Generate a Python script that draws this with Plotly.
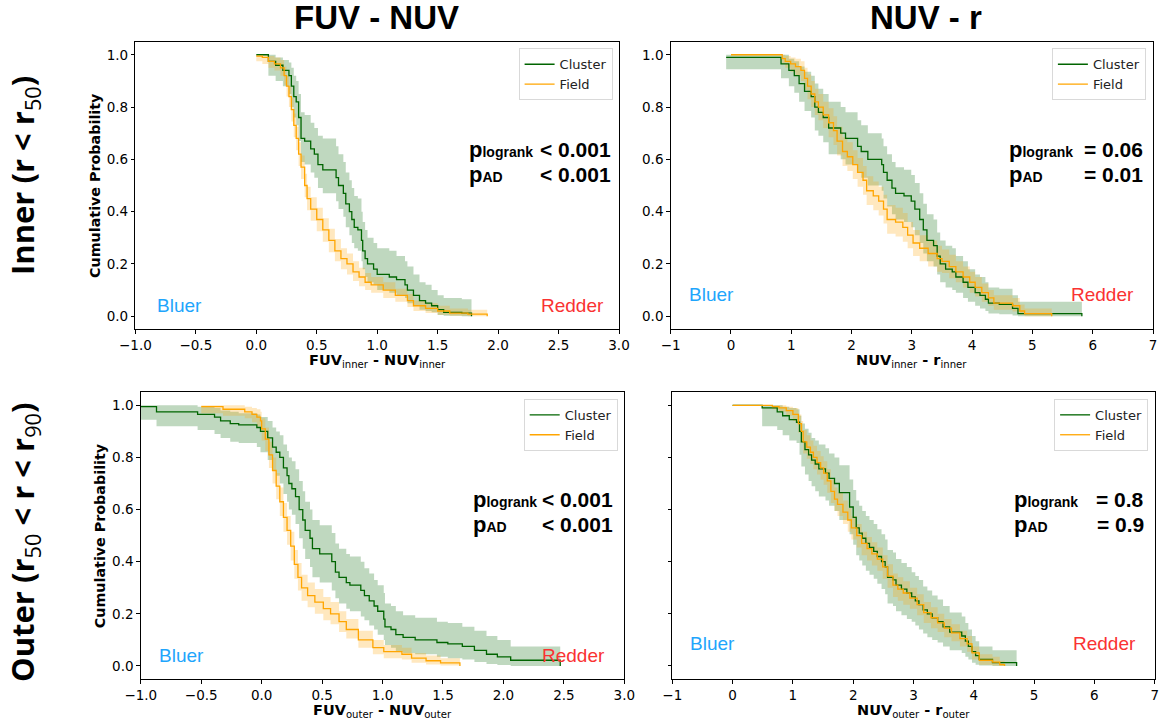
import plotly.graph_objects as go

W, H = 1162, 725

# ---------------- data ----------------
# Panel A : inner, FUV - NUV
a_cl_x = [0.00, 0.10, 0.16, 0.22, 0.27, 0.29, 0.31, 0.33, 0.35, 0.37, 0.40, 0.45, 0.48, 0.51, 0.55, 0.66, 0.68, 0.72, 0.74, 0.77,
          0.79, 0.81, 0.84, 0.87, 0.88, 0.90, 0.92, 0.97, 1.00, 1.10, 1.16, 1.23, 1.25, 1.30, 1.35, 1.40, 1.45, 1.50, 1.55, 1.70, 1.78]
a_cl_y = [1.00, 0.975, 0.96, 0.94, 0.92, 0.88, 0.84, 0.82, 0.76, 0.68, 0.67, 0.64, 0.62, 0.58, 0.56, 0.53, 0.50, 0.47, 0.43, 0.40,
          0.37, 0.34, 0.33, 0.29, 0.25, 0.22, 0.20, 0.18, 0.16, 0.15, 0.14, 0.12, 0.10, 0.08, 0.06, 0.05, 0.04, 0.025, 0.015, 0.012, 0.0]
a_cl_hi = [1.00, 1.00, 0.99, 0.98, 0.97, 0.95, 0.92, 0.90, 0.85, 0.78, 0.77, 0.74, 0.72, 0.69, 0.68, 0.65, 0.62, 0.59, 0.55, 0.52,
           0.49, 0.46, 0.45, 0.40, 0.36, 0.33, 0.30, 0.28, 0.26, 0.25, 0.23, 0.21, 0.19, 0.16, 0.13, 0.12, 0.10, 0.08, 0.07, 0.065, 0.06]
a_cl_lo = [1.00, 0.92, 0.90, 0.88, 0.85, 0.80, 0.76, 0.73, 0.67, 0.59, 0.58, 0.55, 0.53, 0.49, 0.47, 0.44, 0.41, 0.38, 0.34, 0.31,
           0.28, 0.26, 0.25, 0.21, 0.18, 0.15, 0.13, 0.12, 0.10, 0.09, 0.08, 0.07, 0.05, 0.04, 0.025, 0.02, 0.015, 0.005, 0.002, 0.0, 0.0]
a_fd_x = [0.00, 0.05, 0.10, 0.15, 0.20, 0.23, 0.25, 0.27, 0.29, 0.31, 0.33, 0.35, 0.37, 0.40, 0.42, 0.45, 0.50, 0.55, 0.60, 0.65,
          0.70, 0.75, 0.80, 0.85, 0.90, 0.95, 1.05, 1.15, 1.25, 1.30, 1.40, 1.50, 1.60, 1.75, 1.91]
a_fd_y = [0.995, 0.99, 0.975, 0.965, 0.95, 0.92, 0.88, 0.84, 0.79, 0.73, 0.68, 0.62, 0.57, 0.50, 0.45, 0.41, 0.37, 0.33, 0.29, 0.25,
          0.22, 0.20, 0.17, 0.15, 0.13, 0.12, 0.10, 0.08, 0.06, 0.04, 0.03, 0.02, 0.012, 0.008, 0.0]
a_fd_hi = [1.0, 1.0, 0.995, 0.99, 0.98, 0.955, 0.92, 0.88, 0.835, 0.775, 0.725, 0.665, 0.615, 0.545, 0.495, 0.455, 0.415, 0.375, 0.335, 0.295,
           0.26, 0.24, 0.21, 0.185, 0.165, 0.15, 0.13, 0.105, 0.085, 0.06, 0.05, 0.04, 0.03, 0.025, 0.02]
a_fd_lo = [0.975, 0.965, 0.95, 0.94, 0.92, 0.885, 0.84, 0.80, 0.745, 0.685, 0.635, 0.575, 0.525, 0.455, 0.405, 0.365, 0.325, 0.285, 0.245, 0.21,
           0.18, 0.16, 0.135, 0.115, 0.10, 0.09, 0.07, 0.055, 0.035, 0.02, 0.012, 0.006, 0.002, 0.0, 0.0]

# Panel B : inner, NUV - r
b_cl_x = [-0.08, 0.83, 0.96, 1.05, 1.13, 1.22, 1.33, 1.39, 1.45, 1.53, 1.62, 1.82, 1.90, 2.10, 2.16, 2.27, 2.50, 2.53, 2.59, 2.67,
          2.73, 2.87, 2.99, 3.05, 3.13, 3.19, 3.25, 3.36, 3.42, 3.47, 3.56, 3.67, 3.73, 3.85, 3.93, 4.05, 4.13, 4.22, 4.27, 4.45,
          4.67, 4.76, 5.82]
b_cl_y = [0.99, 0.965, 0.94, 0.92, 0.89, 0.86, 0.84, 0.80, 0.78, 0.76, 0.72, 0.70, 0.68, 0.65, 0.63, 0.60, 0.58, 0.55, 0.52, 0.49,
          0.47, 0.46, 0.44, 0.41, 0.37, 0.33, 0.29, 0.27, 0.23, 0.20, 0.18, 0.17, 0.15, 0.13, 0.11, 0.09, 0.08, 0.065, 0.05, 0.045,
          0.03, 0.01, 0.0]
b_cl_hi = [1.0, 1.0, 0.985, 0.975, 0.955, 0.935, 0.92, 0.89, 0.87, 0.85, 0.82, 0.80, 0.78, 0.75, 0.73, 0.70, 0.68, 0.65, 0.62, 0.59,
           0.57, 0.56, 0.54, 0.51, 0.47, 0.43, 0.39, 0.37, 0.32, 0.29, 0.27, 0.26, 0.23, 0.21, 0.18, 0.16, 0.15, 0.13, 0.11, 0.105,
           0.08, 0.055, 0.05]
b_cl_lo = [0.945, 0.91, 0.88, 0.855, 0.82, 0.785, 0.76, 0.71, 0.69, 0.665, 0.62, 0.60, 0.58, 0.55, 0.53, 0.50, 0.48, 0.45, 0.42, 0.39,
           0.37, 0.36, 0.34, 0.31, 0.28, 0.24, 0.21, 0.19, 0.16, 0.13, 0.11, 0.10, 0.09, 0.07, 0.055, 0.04, 0.03, 0.02, 0.01, 0.008,
           0.003, 0.0, 0.0]
b_fd_x = [0.00, 0.85, 0.90, 0.99, 1.07, 1.16, 1.22, 1.27, 1.33, 1.39, 1.45, 1.53, 1.62, 1.70, 1.76, 1.85, 1.93, 2.02, 2.10, 2.19,
          2.25, 2.36, 2.45, 2.53, 2.59, 2.73, 2.85, 2.93, 3.02, 3.13, 3.27, 3.42, 3.50, 3.62, 3.73, 3.85, 3.96, 4.05, 4.16, 4.27,
          4.36, 4.67, 4.79, 4.87, 5.32]
b_fd_y = [1.0, 0.985, 0.975, 0.965, 0.955, 0.94, 0.91, 0.88, 0.85, 0.82, 0.80, 0.77, 0.74, 0.71, 0.67, 0.63, 0.61, 0.58, 0.55, 0.52,
          0.48, 0.46, 0.44, 0.41, 0.37, 0.36, 0.34, 0.31, 0.28, 0.26, 0.24, 0.22, 0.21, 0.19, 0.17, 0.15, 0.13, 0.11, 0.09, 0.07,
          0.05, 0.04, 0.02, 0.01, 0.0]
b_fd_hi = [1.0, 1.0, 0.995, 0.99, 0.985, 0.975, 0.95, 0.925, 0.90, 0.87, 0.85, 0.82, 0.795, 0.765, 0.725, 0.685, 0.665, 0.635, 0.605, 0.575,
           0.535, 0.515, 0.495, 0.465, 0.425, 0.415, 0.395, 0.36, 0.33, 0.31, 0.29, 0.27, 0.255, 0.235, 0.21, 0.19, 0.17, 0.15, 0.125, 0.10,
           0.08, 0.07, 0.045, 0.03, 0.02]
b_fd_lo = [1.0, 0.965, 0.95, 0.935, 0.92, 0.9, 0.865, 0.83, 0.80, 0.77, 0.75, 0.72, 0.685, 0.655, 0.615, 0.575, 0.555, 0.525, 0.495, 0.465,
           0.425, 0.405, 0.385, 0.355, 0.315, 0.305, 0.285, 0.26, 0.23, 0.21, 0.19, 0.17, 0.165, 0.145, 0.13, 0.11, 0.09, 0.075, 0.055, 0.04,
           0.025, 0.018, 0.005, 0.0, 0.0]

# Panel C : outer, FUV - NUV
c_cl_x = [-1.00, -0.87, -0.53, -0.39, -0.34, -0.26, -0.19, -0.04, -0.01, 0.05, 0.09, 0.12, 0.15, 0.18, 0.21, 0.225, 0.25, 0.28, 0.31, 0.34,
          0.36, 0.40, 0.42, 0.48, 0.58, 0.61, 0.64, 0.70, 0.73, 0.82, 0.85, 0.89, 0.93, 0.96, 1.01, 1.02, 1.07, 1.11, 1.17, 1.27,
          1.45, 1.54, 1.66, 1.76, 1.86, 1.95, 2.06, 2.47]
c_cl_y = [0.995, 0.975, 0.965, 0.955, 0.94, 0.93, 0.925, 0.915, 0.90, 0.875, 0.84, 0.82, 0.80, 0.76, 0.73, 0.70, 0.68, 0.65, 0.60, 0.56,
          0.52, 0.49, 0.45, 0.43, 0.40, 0.36, 0.34, 0.32, 0.31, 0.29, 0.27, 0.25, 0.23, 0.21, 0.18, 0.15, 0.14, 0.12, 0.11, 0.10,
          0.09, 0.085, 0.075, 0.06, 0.045, 0.035, 0.022, 0.0]
c_cl_hi = [1.0, 1.0, 0.995, 0.99, 0.98, 0.975, 0.97, 0.965, 0.955, 0.94, 0.915, 0.90, 0.885, 0.85, 0.825, 0.80, 0.785, 0.755, 0.71, 0.67,
           0.63, 0.60, 0.56, 0.54, 0.51, 0.47, 0.45, 0.43, 0.42, 0.40, 0.375, 0.355, 0.33, 0.31, 0.28, 0.24, 0.23, 0.21, 0.195, 0.185,
           0.17, 0.165, 0.15, 0.135, 0.115, 0.10, 0.075, 0.07]
c_cl_lo = [0.945, 0.92, 0.905, 0.89, 0.875, 0.86, 0.855, 0.84, 0.82, 0.79, 0.75, 0.73, 0.70, 0.66, 0.63, 0.60, 0.58, 0.545, 0.49, 0.45,
           0.41, 0.38, 0.34, 0.32, 0.29, 0.26, 0.24, 0.22, 0.21, 0.19, 0.175, 0.155, 0.14, 0.12, 0.10, 0.08, 0.07, 0.055, 0.05, 0.045,
           0.035, 0.03, 0.025, 0.015, 0.008, 0.004, 0.0, 0.0]
c_fd_x = [-0.50, -0.32, -0.14, -0.08, -0.04, -0.01, 0.00, 0.03, 0.06, 0.09, 0.12, 0.15, 0.18, 0.21, 0.24, 0.27, 0.30, 0.33, 0.38, 0.44,
          0.51, 0.57, 0.64, 0.70, 0.80, 0.92, 1.01, 1.16, 1.24, 1.36, 1.48, 1.64]
c_fd_y = [0.995, 0.985, 0.975, 0.965, 0.955, 0.94, 0.91, 0.87, 0.81, 0.75, 0.69, 0.63, 0.57, 0.52, 0.46, 0.39, 0.34, 0.30, 0.27, 0.245,
          0.22, 0.20, 0.17, 0.14, 0.10, 0.07, 0.055, 0.045, 0.03, 0.02, 0.012, 0.0]
c_fd_hi = [1.0, 1.0, 0.995, 0.99, 0.985, 0.975, 0.95, 0.915, 0.86, 0.80, 0.74, 0.685, 0.625, 0.575, 0.515, 0.445, 0.395, 0.35, 0.32, 0.295,
           0.265, 0.245, 0.21, 0.18, 0.135, 0.10, 0.08, 0.07, 0.05, 0.04, 0.03, 0.02]
c_fd_lo = [0.97, 0.96, 0.95, 0.935, 0.92, 0.9, 0.865, 0.825, 0.76, 0.70, 0.64, 0.575, 0.515, 0.465, 0.405, 0.335, 0.29, 0.25, 0.225, 0.20,
           0.175, 0.16, 0.13, 0.105, 0.07, 0.045, 0.03, 0.025, 0.012, 0.006, 0.002, 0.0]

# Panel D : outer, NUV - r
d_cl_x = [0.00, 0.49, 0.74, 0.83, 0.94, 1.06, 1.11, 1.14, 1.20, 1.26, 1.31, 1.37, 1.43, 1.54, 1.60, 1.69, 1.77, 1.94, 2.00, 2.05,
          2.10, 2.15, 2.21, 2.27, 2.34, 2.40, 2.47, 2.53, 2.57, 2.66, 2.71, 2.80, 2.89, 2.97, 3.03, 3.09, 3.16, 3.23, 3.31, 3.40,
          3.49, 3.60, 3.80, 3.86, 3.91, 3.97, 4.03, 4.09, 4.31, 4.71]
d_cl_y = [1.0, 0.99, 0.975, 0.96, 0.945, 0.935, 0.90, 0.86, 0.83, 0.81, 0.79, 0.775, 0.756, 0.74, 0.72, 0.70, 0.665, 0.61, 0.57, 0.53,
          0.51, 0.49, 0.47, 0.455, 0.44, 0.42, 0.40, 0.38, 0.34, 0.33, 0.31, 0.295, 0.28, 0.265, 0.25, 0.235, 0.215, 0.20, 0.185, 0.17,
          0.15, 0.13, 0.115, 0.095, 0.075, 0.055, 0.04, 0.025, 0.013, 0.0]
d_cl_hi = [1.0, 1.0, 1.0, 0.995, 0.99, 0.985, 0.96, 0.93, 0.91, 0.895, 0.875, 0.865, 0.85, 0.835, 0.815, 0.80, 0.77, 0.715, 0.675, 0.635,
           0.615, 0.595, 0.575, 0.56, 0.545, 0.525, 0.505, 0.485, 0.445, 0.435, 0.41, 0.395, 0.38, 0.36, 0.345, 0.33, 0.305, 0.29, 0.27, 0.255,
           0.23, 0.205, 0.19, 0.165, 0.14, 0.115, 0.095, 0.075, 0.06, 0.055]
d_cl_lo = [1.0, 0.92, 0.905, 0.885, 0.865, 0.855, 0.81, 0.765, 0.735, 0.71, 0.69, 0.67, 0.65, 0.635, 0.615, 0.595, 0.56, 0.505, 0.465, 0.425,
           0.405, 0.385, 0.365, 0.35, 0.335, 0.315, 0.295, 0.275, 0.24, 0.23, 0.21, 0.195, 0.18, 0.17, 0.155, 0.14, 0.125, 0.11, 0.10, 0.09,
           0.075, 0.06, 0.05, 0.035, 0.025, 0.012, 0.005, 0.002, 0.0, 0.0]
d_fd_x = [0.00, 0.66, 0.77, 0.89, 1.00, 1.09, 1.14, 1.17, 1.23, 1.29, 1.34, 1.40, 1.46, 1.51, 1.57, 1.63, 1.69, 1.74, 1.83, 1.91,
          1.97, 2.06, 2.14, 2.23, 2.31, 2.40, 2.49, 2.57, 2.66, 2.74, 2.83, 2.94, 3.06, 3.17, 3.29, 3.40, 3.51, 3.63, 3.77, 3.89,
          3.97, 4.09, 4.31, 4.43, 4.51]
d_fd_y = [1.0, 0.995, 0.99, 0.98, 0.965, 0.93, 0.90, 0.86, 0.84, 0.82, 0.80, 0.78, 0.76, 0.74, 0.71, 0.67, 0.64, 0.62, 0.59, 0.56,
          0.53, 0.50, 0.47, 0.45, 0.43, 0.41, 0.38, 0.345, 0.31, 0.295, 0.28, 0.26, 0.235, 0.205, 0.185, 0.165, 0.145, 0.127, 0.105, 0.085,
          0.05, 0.022, 0.015, 0.005, 0.0]
d_fd_hi = [1.0, 1.0, 1.0, 0.995, 0.99, 0.965, 0.94, 0.905, 0.885, 0.865, 0.845, 0.825, 0.805, 0.785, 0.755, 0.715, 0.685, 0.665, 0.635, 0.605,
           0.575, 0.545, 0.515, 0.495, 0.475, 0.455, 0.425, 0.39, 0.355, 0.34, 0.325, 0.30, 0.275, 0.245, 0.225, 0.2, 0.18, 0.16, 0.135, 0.115,
           0.075, 0.045, 0.035, 0.02, 0.015]
d_fd_lo = [1.0, 0.985, 0.975, 0.96, 0.94, 0.895, 0.86, 0.815, 0.795, 0.775, 0.755, 0.735, 0.715, 0.695, 0.665, 0.625, 0.595, 0.575, 0.545, 0.515,
           0.485, 0.455, 0.425, 0.405, 0.385, 0.365, 0.335, 0.30, 0.265, 0.25, 0.235, 0.22, 0.195, 0.165, 0.145, 0.13, 0.11, 0.095, 0.075, 0.055,
           0.025, 0.005, 0.002, 0.0, 0.0]

# Text content
col_titles = ["FUV - NUV", "NUV - r"]
row_titles = ["<b>Inner (r &lt; r</b><sub>50</sub><b>)</b>",
              "<b>Outer (r</b><sub>50</sub><b> &lt; r &lt; r</b><sub>90</sub><b>)</b>"]
x_titles = ["<b>FUV</b><sub>inner</sub><b> - NUV</b><sub>inner</sub>",
            "<b>NUV</b><sub>inner</sub><b> - r</b><sub>inner</sub>",
            "<b>FUV</b><sub>outer</sub><b> - NUV</b><sub>outer</sub>",
            "<b>NUV</b><sub>outer</sub><b> - r</b><sub>outer</sub>"]
p_names = ["logrank", "AD"]
p_logrank = ["&lt; 0.001", "= 0.06", "&lt; 0.001", "= 0.8"]
p_ad = ["&lt; 0.001", "= 0.01", "&lt; 0.001", "= 0.9"]
series_names = ["Cluster", "Field"]
y_ticks = [0.0, 0.2, 0.4, 0.6, 0.8, 1.0]
x_ticks_fuv = [-1.0, -0.5, 0.0, 0.5, 1.0, 1.5, 2.0, 2.5, 3.0]
x_ticks_nuv = [-1, 0, 1, 2, 3, 4, 5, 6, 7]

# ---------------- layout geometry (pixels -> paper) ----------------
def px(x):
    return x / W

def py(y):
    return 1 - y / H

CL_COLOR = "#006400"
FD_COLOR = "#FFA500"
CL_FILL = "rgba(0,100,0,0.25)"
FD_FILL = "rgba(255,165,0,0.25)"

panels = [
    dict(data=(a_cl_x, a_cl_y, a_cl_lo, a_cl_hi, a_fd_x, a_fd_y, a_fd_lo, a_fd_hi),
         xd=(135.4, 619.0), yd=(41.7, 329.3), xr=(-1, 3), ticks=x_ticks_fuv, fmt=".1f",
         ylabels=True, ytitle=True, ytitle_x=95.5, leg=(612.6, 48.3),
         lab_x=1.74, val_x=2.947, bluer=-0.633, redder=2.616, by=0.041, xt_y=361),
    dict(data=(b_cl_x, b_cl_y, b_cl_lo, b_cl_hi, b_fd_x, b_fd_y, b_fd_lo, b_fd_hi),
         xd=(670.7, 1153.0), yd=(41.7, 329.3), xr=(-1, 7), ticks=x_ticks_nuv, fmt="d",
         ylabels=True, ytitle=False, ytitle_x=None, leg=(1145.9, 48.3),
         lab_x=4.57, val_x=6.874, bluer=-0.32, redder=6.16, by=0.085, xt_y=361),
    dict(data=(c_cl_x, c_cl_y, c_cl_lo, c_cl_hi, c_fd_x, c_fd_y, c_fd_lo, c_fd_hi),
         xd=(140.8, 624.3), yd=(392.3, 679.0), xr=(-1, 3), ticks=x_ticks_fuv, fmt=".1f",
         ylabels=True, ytitle=True, ytitle_x=99.6, leg=(617.7, 398.9),
         lab_x=1.73, val_x=2.926, bluer=-0.666, redder=2.581, by=0.041, xt_y=711),
    dict(data=(d_cl_x, d_cl_y, d_cl_lo, d_cl_hi, d_fd_x, d_fd_y, d_fd_lo, d_fd_hi),
         xd=(672.3, 1154.7), yd=(392.3, 679.0), xr=(-1, 7), ticks=x_ticks_nuv, fmt="d",
         ylabels=False, ytitle=False, ytitle_x=None, leg=(1148.1, 398.9),
         lab_x=4.64, val_x=6.857, bluer=-0.326, redder=6.16, by=0.085, xt_y=711),
]

fig = go.Figure()
annotations = []
layout_extra = {}

for i, p in enumerate(panels):
    n = "" if i == 0 else str(i + 1)
    xa, ya = "x" + n, "y" + n
    legname = "legend" + n
    cx, cy, clo, chi, fx, fy, flo, fhi = p["data"]

    # confidence bands (stepped)
    for bx, blo, bhi, fill in ((cx, clo, chi, CL_FILL), (fx, flo, fhi, FD_FILL)):
        fig.add_trace(go.Scatter(x=bx, y=bhi, mode="lines", line=dict(width=0, shape="hv"),
                                 showlegend=False, hoverinfo="skip", xaxis=xa, yaxis=ya))
        fig.add_trace(go.Scatter(x=bx, y=blo, mode="lines", line=dict(width=0, shape="hv"),
                                 fill="tonexty", fillcolor=fill, showlegend=False,
                                 hoverinfo="skip", xaxis=xa, yaxis=ya))
    # survival curves
    fig.add_trace(go.Scatter(x=cx, y=cy, mode="lines", name=series_names[0],
                             line=dict(color=CL_COLOR, width=1.3, shape="hv"),
                             xaxis=xa, yaxis=ya, legend=legname))
    fig.add_trace(go.Scatter(x=fx, y=fy, mode="lines", name=series_names[1],
                             line=dict(color=FD_COLOR, width=1.3, shape="hv"),
                             xaxis=xa, yaxis=ya, legend=legname))

    axis_common = dict(showline=True, linecolor="black", linewidth=1, mirror=True,
                       ticks="outside", ticklen=3.5, tickwidth=1, tickcolor="black",
                       showgrid=False, zeroline=False, automargin=False,
                       tickfont=dict(family="DejaVu Sans", size=13.5, color="black"))
    layout_extra["xaxis" + n] = dict(axis_common, domain=[px(p["xd"][0]), px(p["xd"][1])],
                                     range=list(p["xr"]), tickvals=p["ticks"],
                                     tickformat=p["fmt"], anchor=ya)
    layout_extra["yaxis" + n] = dict(axis_common, domain=[py(p["yd"][1]), py(p["yd"][0])],
                                     range=[-0.05, 1.05], tickvals=y_ticks, tickformat=".1f",
                                     showticklabels=p["ylabels"], anchor=xa)
    layout_extra[legname] = dict(x=px(p["leg"][0]), y=py(p["leg"][1]), xanchor="right", yanchor="top",
                                 xref="paper", yref="paper", bgcolor="white",
                                 bordercolor="#d9d9d9", borderwidth=1, traceorder="normal",
                                 font=dict(family="DejaVu Sans", size=13, color="#222222"),
                                 tracegroupgap=0, itemwidth=30)

    xcen = (p["xd"][0] + p["xd"][1]) / 2
    ycen = (p["yd"][0] + p["yd"][1]) / 2
    # x-axis title
    annotations.append(dict(text=x_titles[i], x=px(xcen), y=py(p["xt_y"]), xref="paper", yref="paper",
                            showarrow=False, xanchor="center", yanchor="middle",
                            font=dict(family="DejaVu Sans", size=14.5, color="black")))
    if p["ytitle"]:
        annotations.append(dict(text="<b>Cumulative Probability</b>", x=px(p["ytitle_x"]), y=py(ycen),
                                xref="paper", yref="paper", showarrow=False, textangle=-90,
                                xanchor="center", yanchor="middle",
                                font=dict(family="DejaVu Sans", size=14.3, color="black")))
    # p-values
    for yy, nm, val in ((0.638, p_names[0], p_logrank[i]), (0.541, p_names[1], p_ad[i])):
        lab = '<b>p<span style="font-size:14px">' + nm + '</span></b>'
        annotations.append(dict(text=lab, x=p["lab_x"], y=yy, xref=xa, yref=ya, showarrow=False,
                                xanchor="left", yanchor="middle",
                                font=dict(family="Liberation Sans", size=22, color="black")))
        annotations.append(dict(text="<b>" + val + "</b>", x=p["val_x"], y=yy, xref=xa, yref=ya,
                                showarrow=False, xanchor="right", yanchor="middle",
                                font=dict(family="Liberation Sans", size=21, color="black")))
    # Bluer / Redder
    annotations.append(dict(text="Bluer", x=p["bluer"], y=p["by"], xref=xa, yref=ya, showarrow=False,
                            xanchor="center", yanchor="middle",
                            font=dict(family="Liberation Sans", size=19, color="#1ea5fc")))
    annotations.append(dict(text="Redder", x=p["redder"], y=p["by"], xref=xa, yref=ya, showarrow=False,
                            xanchor="center", yanchor="middle",
                            font=dict(family="Liberation Sans", size=19, color="#fa3232")))

# column titles
for t, xc in zip(col_titles, (376, 926)):
    annotations.append(dict(text="<b>" + t + "</b>", x=px(xc), y=py(17.5), xref="paper", yref="paper",
                            showarrow=False, xanchor="center", yanchor="middle",
                            font=dict(family="Liberation Sans", size=33, color="black")))
# row titles
for t, yc in zip(row_titles, (176, 542)):
    annotations.append(dict(text=t, x=px(24), y=py(yc), xref="paper", yref="paper", textangle=-90,
                            showarrow=False, xanchor="center", yanchor="middle",
                            font=dict(family="Open Sans", size=31, color="black")))

fig.update_layout(width=W, height=H, margin=dict(l=0, r=0, t=0, b=0, autoexpand=False),
                  paper_bgcolor="white", plot_bgcolor="white",
                  annotations=annotations, **layout_extra)

fig.write_html("out.html")
